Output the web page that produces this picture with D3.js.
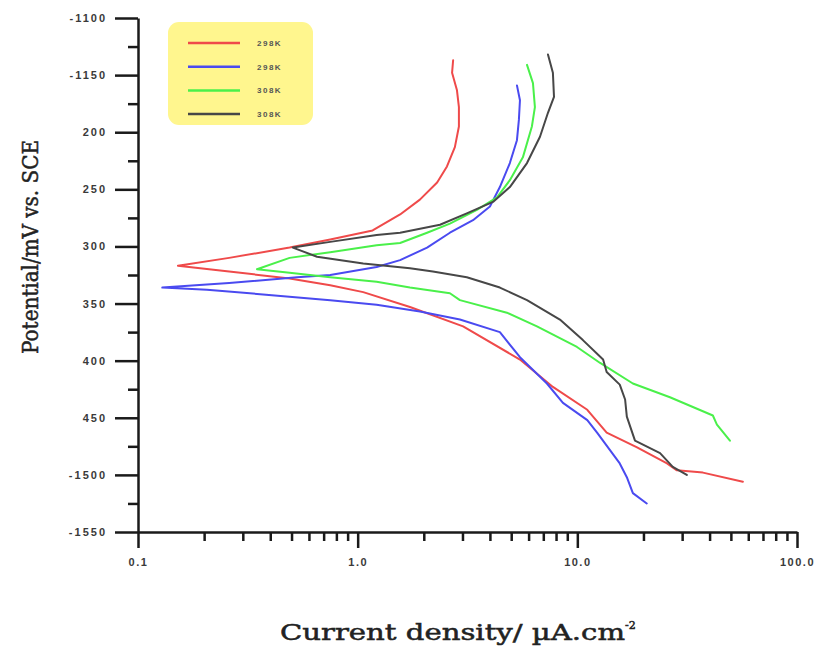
<!DOCTYPE html>
<html>
<head>
<meta charset="utf-8">
<script src="https://cdn.jsdelivr.net/npm/d3@7"></script>
<style>
  html, body { margin: 0; padding: 0; background: #fff; }
  svg { display: block; }
</style>
</head>
<body>
<svg id="chart" width="822" height="646"></svg>
<script>
// ---- Data (current density µA/cm², potential mV) ----
const seriesNames = ["298K", "298K", "308K", "308K"];
const seriesColors = ["#ef4a4a", "#4a4af0", "#4af04a", "#474747"];

const redCurve = [
  [2.72,-1137],[2.69,-1148],[2.83,-1163],[2.89,-1178],[2.89,-1195],[2.77,-1213],[2.55,-1230],
  [2.30,-1244],[1.92,-1259],[1.56,-1272],[1.17,-1286],[0.75,-1294],[0.49,-1301],[0.26,-1310],
  [0.152,-1317],[0.26,-1322],[0.49,-1328],[0.75,-1334],[1.06,-1340],[1.73,-1353],[3.02,-1370],
  [5.48,-1399],[7.74,-1423],[11.1,-1443],[13.6,-1463],[18.7,-1476],[25.6,-1490],[28.4,-1496],
  [37.3,-1498],[56.7,-1506]
];
const blueCurve = [
  [5.31,-1159],[5.48,-1172],[5.42,-1189],[5.31,-1207],[4.93,-1227],[4.44,-1248],[4.00,-1265],
  [3.35,-1277],[2.63,-1288],[2.07,-1301],[1.56,-1312],[1.22,-1318],[0.75,-1325],[0.53,-1327],
  [0.26,-1332],[0.129,-1336],[0.206,-1338],[0.371,-1342],[0.75,-1347],[1.22,-1351],[1.92,-1357],
  [2.92,-1364],[4.44,-1375],[5.48,-1397],[7.27,-1420],[8.60,-1437],[11.1,-1452],[12.3,-1463],
  [15.6,-1490],[16.8,-1502],[17.9,-1516],[20.7,-1525]
];
const greenCurve = [
  [5.90,-1141],[6.28,-1157],[6.41,-1178],[6.21,-1195],[5.65,-1222],[4.93,-1242],[4.31,-1257],
  [3.49,-1268],[2.63,-1280],[2.07,-1288],[1.56,-1297],[1.22,-1299],[0.75,-1305],[0.49,-1310],
  [0.348,-1320],[0.49,-1323],[0.75,-1327],[1.22,-1331],[1.73,-1336],[2.63,-1341],[2.92,-1347],
  [4.78,-1358],[6.55,-1370],[9.96,-1388],[12.7,-1402],[17.9,-1420],[26.4,-1432],[41.4,-1448],
  [43.2,-1456],[49.5,-1470]
];
const blackCurve = [
  [7.35,-1132],[7.74,-1148],[7.83,-1169],[7.35,-1183],[6.76,-1204],[5.90,-1227],[4.93,-1248],
  [4.13,-1261],[3.14,-1271],[2.37,-1281],[1.56,-1288],[1.22,-1290],[0.75,-1296],[0.507,-1301],
  [0.653,-1309],[1.06,-1315],[1.73,-1319],[2.20,-1322],[3.14,-1327],[4.44,-1336],[5.90,-1347],
  [8.33,-1364],[10.6,-1382],[13.1,-1399],[13.6,-1410],[15.6,-1421],[16.5,-1434],[16.8,-1449],
  [18.3,-1470],[23.8,-1481],[27.2,-1493],[31.5,-1500]
];

const xMajorTicks = [0.1, 1, 10, 100];
const xTickLabels = ["0.1", "1.0", "10.0", "100.0"];
const yMajorTicks = [-1100,-1150,-1200,-1250,-1300,-1350,-1400,-1450,-1500,-1550];
const yTickLabels = ["-1100","-1150","200","250","300","350","400","450","-1500","-1550"];
const xTitle = "Current density/ µA.cm";
const xTitleSup = "-2";
const yTitle = "Potential/mV vs. SCE";

// ---- Layout ----
const svg = d3.select("#chart");
const plotLeft = 138, plotRight = 797, plotTop = 18, plotBottom = 532;

const x = d3.scaleLog().domain([0.1, 100]).range([plotLeft, plotRight]);
const y = d3.scaleLinear().domain([-1100, -1550]).range([plotTop, plotBottom]);

// minor ticks
const xMinor = [];
[0.1, 1, 10].forEach(d => { for (let k = 2; k <= 9; k++) xMinor.push(+(d * k).toFixed(3)); });
const yMinor = d3.range(-1125, -1550, -50);

const axisColor = "#1a1a1a";
const labelFont = "'Liberation Sans', Arial, sans-serif";
const serifFont = "'DejaVu Serif', 'Liberation Serif', serif";

// X axis: minor
svg.append("g").attr("transform", `translate(0,${plotBottom})`)
  .call(d3.axisBottom(x).tickValues(xMinor).tickSize(9).tickSizeOuter(0).tickFormat(""))
  .call(g => g.select(".domain").remove())
  .call(g => g.selectAll("line").attr("stroke", axisColor).attr("stroke-width", 2.5));
// X axis: major
svg.append("g").attr("transform", `translate(0,${plotBottom})`)
  .call(d3.axisBottom(x).tickValues(xMajorTicks).tickSize(16).tickSizeOuter(0).tickPadding(10)
    .tickFormat((d, i) => xTickLabels[i]))
  .call(g => g.select(".domain").attr("stroke", axisColor).attr("stroke-width", 2.5))
  .call(g => g.selectAll("line").attr("stroke", axisColor).attr("stroke-width", 2.5))
  .call(g => g.selectAll("text").attr("font-family", labelFont).attr("font-size", 11)
    .attr("font-weight", "bold").attr("letter-spacing", 1.5).attr("fill", "#3a3a3a"));

// Y axis: minor
svg.append("g").attr("transform", `translate(${plotLeft},0)`)
  .call(d3.axisLeft(y).tickValues(yMinor).tickSize(10).tickSizeOuter(0).tickFormat(""))
  .call(g => g.select(".domain").remove())
  .call(g => g.selectAll("line").attr("stroke", axisColor).attr("stroke-width", 2.5));
// Y axis: major
svg.append("g").attr("transform", `translate(${plotLeft},0)`)
  .call(d3.axisLeft(y).tickValues(yMajorTicks).tickSize(23).tickSizeOuter(0).tickPadding(8)
    .tickFormat((d, i) => yTickLabels[i]))
  .call(g => g.select(".domain").attr("stroke", axisColor).attr("stroke-width", 2.5))
  .call(g => g.selectAll("line").attr("stroke", axisColor).attr("stroke-width", 2.5))
  .call(g => g.selectAll("text").attr("font-family", labelFont).attr("font-size", 11)
    .attr("font-weight", "bold").attr("letter-spacing", 2).attr("fill", "#3a3a3a"));

// ---- Curves ----
const line = d3.line().x(d => x(d[0])).y(d => y(d[1]));
const curves = [redCurve, blueCurve, greenCurve, blackCurve];
curves.forEach((c, i) => {
  svg.append("path").datum(c)
    .attr("d", line)
    .attr("fill", "none")
    .attr("stroke", seriesColors[i])
    .attr("stroke-width", 2)
    .attr("stroke-linejoin", "round")
    .attr("stroke-linecap", "round");
});

// ---- Legend ----
const lg = svg.append("g");
lg.append("rect").attr("x", 168).attr("y", 22).attr("width", 145).attr("height", 103)
  .attr("rx", 11).attr("fill", "#fff68e");
seriesNames.forEach((n, i) => {
  const ly = 43 + i * 23.7;
  lg.append("line").attr("x1", 188).attr("x2", 240).attr("y1", ly).attr("y2", ly)
    .attr("stroke", seriesColors[i]).attr("stroke-width", 2.5);
  lg.append("text").attr("x", 257).attr("y", ly).attr("dy", "0.35em")
    .attr("font-family", labelFont).attr("font-size", 8).attr("font-weight", "bold")
    .attr("letter-spacing", 1.5).attr("fill", "#555").text(n);
});

// ---- Titles ----
const xt = svg.append("text").attr("x", 280).attr("y", 640)
  .attr("font-family", serifFont)
  .attr("font-size", 22).attr("fill", "#222")
  .attr("stroke", "#222").attr("stroke-width", 0.5);
xt.append("tspan").text(xTitle).attr("textLength", 345).attr("lengthAdjust", "spacingAndGlyphs");
xt.append("tspan").text(xTitleSup).attr("font-size", 11).attr("dy", -11);

svg.append("text")
  .attr("transform", "translate(38,247) rotate(-90)")
  .attr("text-anchor", "middle")
  .attr("font-family", serifFont)
  .attr("font-size", 22).attr("fill", "#222")
  .attr("stroke", "#222").attr("stroke-width", 0.5)
  .attr("textLength", 214).attr("lengthAdjust", "spacingAndGlyphs")
  .text(yTitle);
</script>
</body>
</html>
